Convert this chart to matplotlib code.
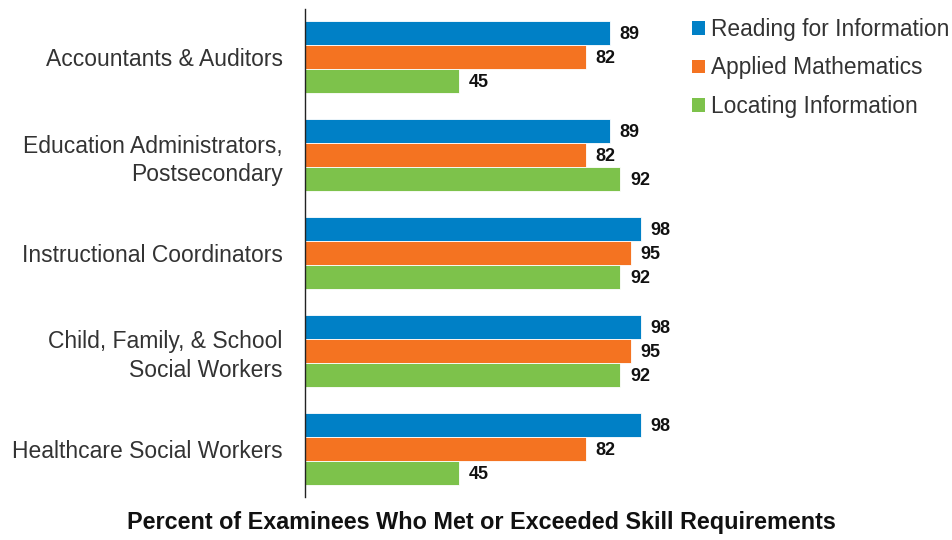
import numpy as np
import matplotlib
matplotlib.use("Agg")
import matplotlib.pyplot as plt
from matplotlib.patches import Patch

# data
occupations = [
    "Accountants & Auditors",
    "Education Administrators,\nPostsecondary",
    "Instructional Coordinators",
    "Child, Family, & School\nSocial Workers",
    "Healthcare Social Workers",
]
series = ["Reading for Information", "Applied Mathematics", "Locating Information"]
reading = [89, 89, 98, 98, 98]
math = [82, 82, 95, 95, 82]
locating = [45, 92, 92, 92, 45]
colors = ["#0080c6", "#f47321", "#7dc24b"]

plt.rcParams["font.family"] = ["Liberation Sans", "DejaVu Sans"]

fig = plt.figure(figsize=(9.53, 5.4), dpi=100)
ax = fig.add_axes([305 / 953, 43 / 540, 648 / 953, 488 / 540])

y = np.arange(len(occupations))
h = 0.245
for i, (vals, c) in enumerate(zip([reading, math, locating], colors)):
    pos = y + (i - 1) * h
    ax.barh(pos, vals, height=h, color=c, edgecolor="white", linewidth=0.6)
    for p, v in zip(pos, vals):
        ax.text(v + 2.8, p + 0.02, str(v), va="center", ha="left", fontsize=13,
                fontweight="bold", color="#111111")

ax.set_xlim(0, 189)
ax.set_ylim(4.49, -0.49)
ax.set_yticks(y)
ax.set_yticklabels(occupations, fontsize=16.5, color="#333333", linespacing=1.3)
ax.tick_params(axis="y", length=0, pad=16)
ax.set_xticks([])
for s in ["top", "right", "bottom"]:
    ax.spines[s].set_visible(False)
ax.spines["left"].set_color("#222222")
ax.spines["left"].set_linewidth(1)
for lbl in ax.get_yticklabels():
    lbl.set_horizontalalignment("right")
    lbl.set_multialignment("right")

handles = [Patch(facecolor=c, label=s) for c, s in zip(colors, series)]
leg = fig.legend(handles=handles, loc="upper left", bbox_to_anchor=(692 / 953, 1 - 18 / 540),
                 frameon=False, fontsize=16.4, handlelength=0.55, handleheight=0.55,
                 handletextpad=0.3, labelspacing=0.68, borderaxespad=0, borderpad=0)
for t in leg.get_texts():
    t.set_color("#333333")

fig.text(481 / 953, 1 - 523 / 540, "Percent of Examinees Who Met or Exceeded Skill Requirements",
         ha="center", va="center", fontsize=16.8, fontweight="bold", color="#111111")

fig.savefig("out.png", dpi=100)
